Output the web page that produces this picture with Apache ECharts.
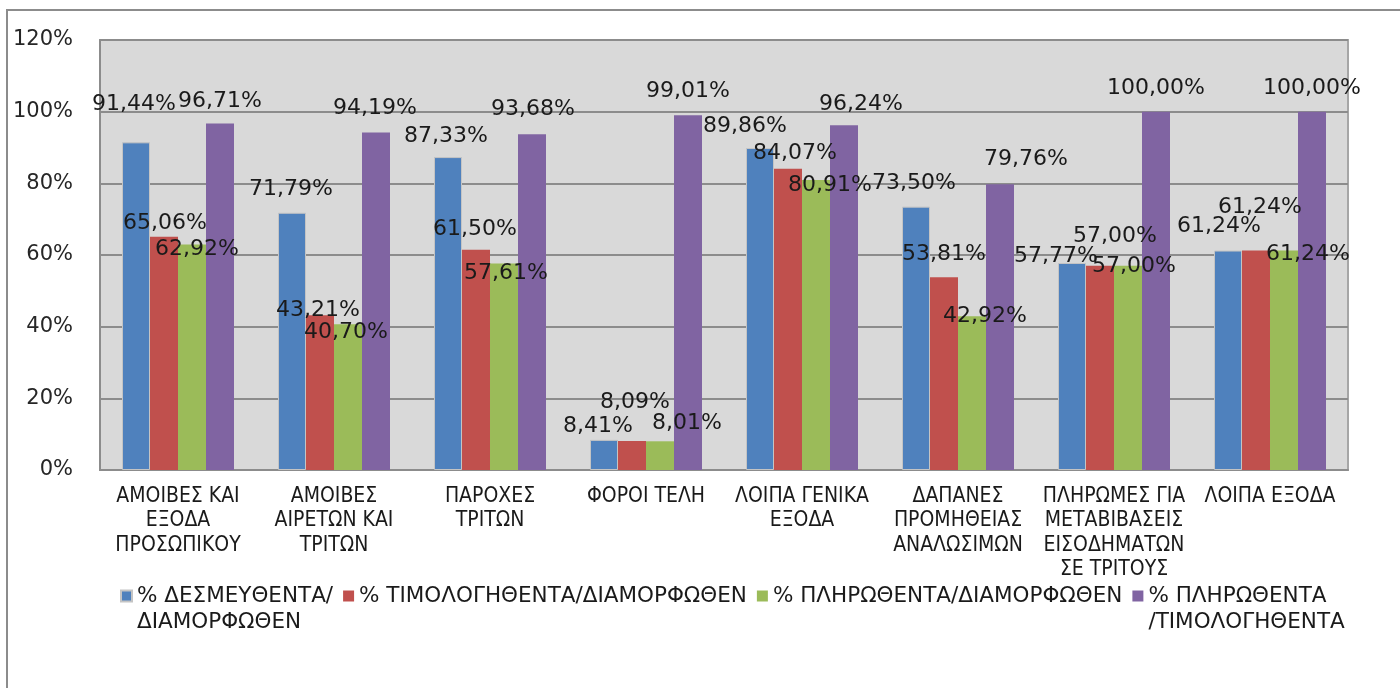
<!DOCTYPE html>
<html>
<head>
<meta charset="utf-8">
<script src="https://cdn.jsdelivr.net/npm/echarts@6/dist/echarts.min.js"></script>
<style>
  html, body { margin: 0; padding: 0; background: #fff; }
  #main { width: 1400px; height: 688px; }
</style>
</head>
<body>
<div id="main"></div>
<script>
// categories (line breaks as on the original axis)
const categories = [
  'ΑΜΟΙΒΕΣ ΚΑΙ\nΕΞΟΔΑ\nΠΡΟΣΩΠΙΚΟΥ',
  'ΑΜΟΙΒΕΣ\nΑΙΡΕΤΩΝ ΚΑΙ\nΤΡΙΤΩΝ',
  'ΠΑΡΟΧΕΣ\nΤΡΙΤΩΝ',
  'ΦΟΡΟΙ ΤΕΛΗ',
  'ΛΟΙΠΑ ΓΕΝΙΚΑ\nΕΞΟΔΑ',
  'ΔΑΠΑΝΕΣ\nΠΡΟΜΗΘΕΙΑΣ\nΑΝΑΛΩΣΙΜΩΝ',
  'ΠΛΗΡΩΜΕΣ ΓΙΑ\nΜΕΤΑΒΙΒΑΣΕΙΣ\nΕΙΣΟΔΗΜΑΤΩΝ\nΣΕ ΤΡΙΤΟΥΣ',
  'ΛΟΙΠΑ ΕΞΟΔΑ'
];

const seriesNames = [
  '% ΔΕΣΜΕΥΘΕΝΤΑ/\nΔΙΑΜΟΡΦΩΘΕΝ',
  '% ΤΙΜΟΛΟΓΗΘΕΝΤΑ/ΔΙΑΜΟΡΦΩΘΕΝ',
  '% ΠΛΗΡΩΘΕΝΤΑ/ΔΙΑΜΟΡΦΩΘΕΝ',
  '% ΠΛΗΡΩΘΕΝΤΑ\n/ΤΙΜΟΛΟΓΗΘΕΝΤΑ'
];

// values in %
const committed    = [91.44, 71.79, 87.33, 8.41, 89.86, 73.50, 57.77, 61.24];
const invoiced     = [65.06, 43.21, 61.50, 8.09, 84.07, 53.81, 57.00, 61.24];
const paid         = [62.92, 40.70, 57.61, 8.01, 80.91, 42.92, 57.00, 61.24];
const paidInvoiced = [96.71, 94.19, 93.68, 99.01, 96.24, 79.76, 100.00, 100.00];

const yTicks = { min: 0, max: 120, interval: 20 };

const colors = ['#4f81bd', '#c0504d', '#9bbb59', '#8064a2'];
const labelFont = 'DejaVu Sans, Verdana, sans-serif';
const catFont = '"DejaVu Sans Condensed", "Arial Narrow", sans-serif';

// label nudges [dx, dy] per series / category (Excel left them overlapping)
const labelNudges = [
  [[-2, -27], [-1, -12], [-2, -10], [-6, -3], [-15, -11], [-2, -12], [-16, 4], [-9, -13]],
  [[1, -3], [-2, 6], [-1, -9], [3, -28], [7, -4], [0, -12], [15, -18], [4, -32]],
  [[5, 16], [-2, 19], [2, 21], [27, -7], [14, 16], [13, 11], [6, 12], [24, 15]],
  [[0, -11], [-1, -13], [1, -14], [0, -13], [17, -10], [26, -14], [0, -12], [0, -12]]
];

const fmtPct = v => v.toFixed(2).replace('.', ',') + '%';

const chart = echarts.init(document.getElementById('main'));

const series = [committed, invoiced, paid, paidInvoiced].map((vals, i) => ({
  name: seriesNames[i],
  type: 'bar',
  data: vals.map((v, j) => ({ value: v, label: { offset: labelNudges[i][j] } })),
  barWidth: 28,
  barGap: '0%',
  itemStyle: i === 0
    ? { color: colors[i], borderColor: '#c4c4c4', borderWidth: 1 }
    : { color: colors[i] },
  label: {
    show: true,
    position: 'top',
    distance: 0,
    formatter: p => fmtPct(p.value),
    fontFamily: labelFont,
    fontSize: 22,
    color: '#1a1a1a'
  },
  emphasis: { disabled: true },
  z: 3
}));

chart.setOption({
  animation: false,
  backgroundColor: '#ffffff',
  color: colors,
  graphic: [{
    type: 'rect',
    shape: { x: 7, y: 10, width: 1420, height: 720 },
    style: { fill: null, stroke: '#8c8c8c', lineWidth: 2 },
    silent: true,
    z: -10
  }],
  grid: {
    left: 100,
    right: 52,
    top: 40,
    bottom: 218,
    show: true,
    backgroundColor: '#d9d9d9',
    borderColor: '#a6a6a6',
    borderWidth: 2
  },
  legend: {
    left: 115,
    top: 552,
    orient: 'horizontal',
    icon: 'rect',
    itemWidth: 11,
    itemHeight: 11,
    itemGap: 10,
    // extra blank line on top keeps the icon level with the first text line
    formatter: name => name.indexOf('\n') >= 0 ? ' \n' + name : name,
    textStyle: {
      fontFamily: labelFont,
      fontSize: 21.5,
      lineHeight: 26,
      color: '#1a1a1a'
    },
    data: seriesNames
  },
  xAxis: {
    type: 'category',
    data: categories,
    axisTick: { show: false },
    axisLine: { lineStyle: { color: '#8c8c8c', width: 2 } },
    axisLabel: {
      interval: 0,
      margin: 14,
      fontFamily: catFont,
      fontSize: 21,
      lineHeight: 24.5,
      color: '#1a1a1a',
      align: 'center',
      verticalAlign: 'top'
    }
  },
  yAxis: {
    type: 'value',
    min: yTicks.min,
    max: yTicks.max,
    interval: yTicks.interval,
    axisLine: { show: true, lineStyle: { color: '#8c8c8c', width: 2 } },
    axisTick: { show: false },
    axisLabel: {
      formatter: '{value}%',
      margin: 27,
      fontFamily: labelFont,
      fontSize: 21,
      color: '#262626'
    },
    splitLine: { lineStyle: { color: '#8c8c8c', width: 2 } }
  },
  series
});
</script>
</body>
</html>
